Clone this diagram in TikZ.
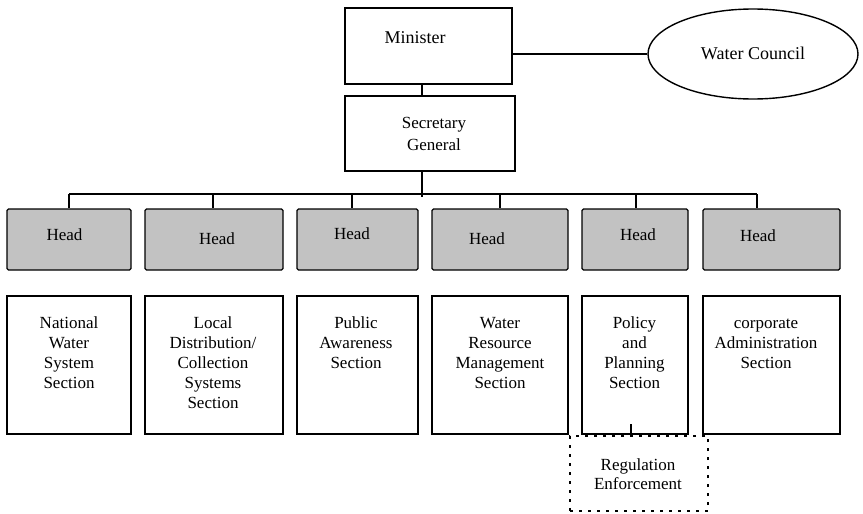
\documentclass[tikz,border=0pt]{standalone}
\usepackage{fontspec}
\setmainfont{Liberation Serif}
\usetikzlibrary{shapes.geometric}
\begin{document}
\begin{tikzpicture}[x=1pt,y=-1pt,
  box/.style={draw,line width=1.4pt,inner sep=0pt,rectangle},
  headbox/.style={box,fill=gray!48,rounded corners=1.5pt,minimum height=61pt},
  secbox/.style={box,minimum height=138pt},
  txt/.style={inner sep=0pt,align=center,font=\fontsize{17}{20}\selectfont},
  sectxt/.style={txt,anchor=north},
  ln/.style={line width=1.4pt}]
\useasboundingbox (0,0) rectangle (863,514);
% top
\node[box,minimum width=167pt,minimum height=76pt] (min) at (428.5,46) {};
\node[txt,font=\fontsize{18}{20}\selectfont] (mint) at (415,38) {Minister};
\node[draw,ellipse,line width=1.4pt,minimum width=210pt,minimum height=90pt,inner sep=0pt] (wc) at (753,54) {};
\node[txt,font=\fontsize{18}{20}\selectfont] (wct) at (753,53) {Water Council};
\node[box,minimum width=170pt,minimum height=75pt] (sg) at (430,133.5) {};
\node[txt,font=\fontsize{17}{22}\selectfont] (sgt) at (434,134) {Secretary\\General};
% bus
\coordinate (top) at (422,194);
\coordinate (d1) at (69,194);
\coordinate (d2) at (213,194);
\coordinate (d3) at (352,194);
\coordinate (d4) at (500,194);
\coordinate (d5) at (636,194);
\coordinate (d6) at (757,194);
% heads
\node[headbox,minimum width=124pt] (h1) at (69,239.5) {};
\node[headbox,minimum width=138pt] (h2) at (214,239.5) {};
\node[headbox,minimum width=121pt] (h3) at (357.5,239.5) {};
\node[headbox,minimum width=136pt] (h4) at (500,239.5) {};
\node[headbox,minimum width=106pt] (h5) at (635,239.5) {};
\node[headbox,minimum width=137pt] (h6) at (771.5,239.5) {};
\node[txt] (ht1) at (64.5,235) {Head};
\node[txt] (ht2) at (217,239) {Head};
\node[txt] (ht3) at (352,234) {Head};
\node[txt] (ht4) at (487,239) {Head};
\node[txt] (ht5) at (638,235) {Head};
\node[txt] (ht6) at (758,236) {Head};
% sections
\node[secbox,minimum width=124pt] (s1) at (69,365) {};
\node[secbox,minimum width=138pt] (s2) at (214,365) {};
\node[secbox,minimum width=121pt] (s3) at (357.5,365) {};
\node[secbox,minimum width=136pt] (s4) at (500,365) {};
\node[secbox,minimum width=106pt] (s5) at (635,365) {};
\node[secbox,minimum width=137pt] (s6) at (771.5,365) {};
\node[sectxt] (st1) at (69,314) {\strut National\\Water\\System\\Section};
\node[sectxt] (st2) at (213,314) {\strut Local\\Distribution/\\Collection\\Systems\\Section};
\node[sectxt] (st3) at (356,314) {\strut Public\\Awareness\\Section};
\node[sectxt] (st4) at (500,314) {\strut Water\\Resource\\Management\\Section};
\node[sectxt] (st5) at (634.5,314) {\strut Policy\\and\\Planning\\Section};
\node[sectxt] (st6) at (766,314) {\strut corporate\\Administration\\Section};
% regulation
\node[draw,line width=1.7pt,dash pattern=on 3pt off 6pt,minimum width=138pt,minimum height=75pt,inner sep=0pt] (reg) at (639,473.5) {};
\node[txt,font=\fontsize{17}{19}\selectfont] (regt) at (638,474.5) {Regulation\\Enforcement};
\coordinate (tk) at (631,424);
% connectors
\draw[ln] (min.east |- wc.west) -- (wc.west);
\draw[ln] (min.south -| top) -- (sg.north -| top);
\draw[ln] (sg.south -| top) -- ([yshift=-3pt]top);
\draw[ln] (d1) -- (d6);
\foreach \i in {1,...,6} {\draw[ln] (d\i) -- (d\i |- h\i.north);}
\draw[ln] (tk) -- (tk |- reg.north);
\end{tikzpicture}
\end{document}
